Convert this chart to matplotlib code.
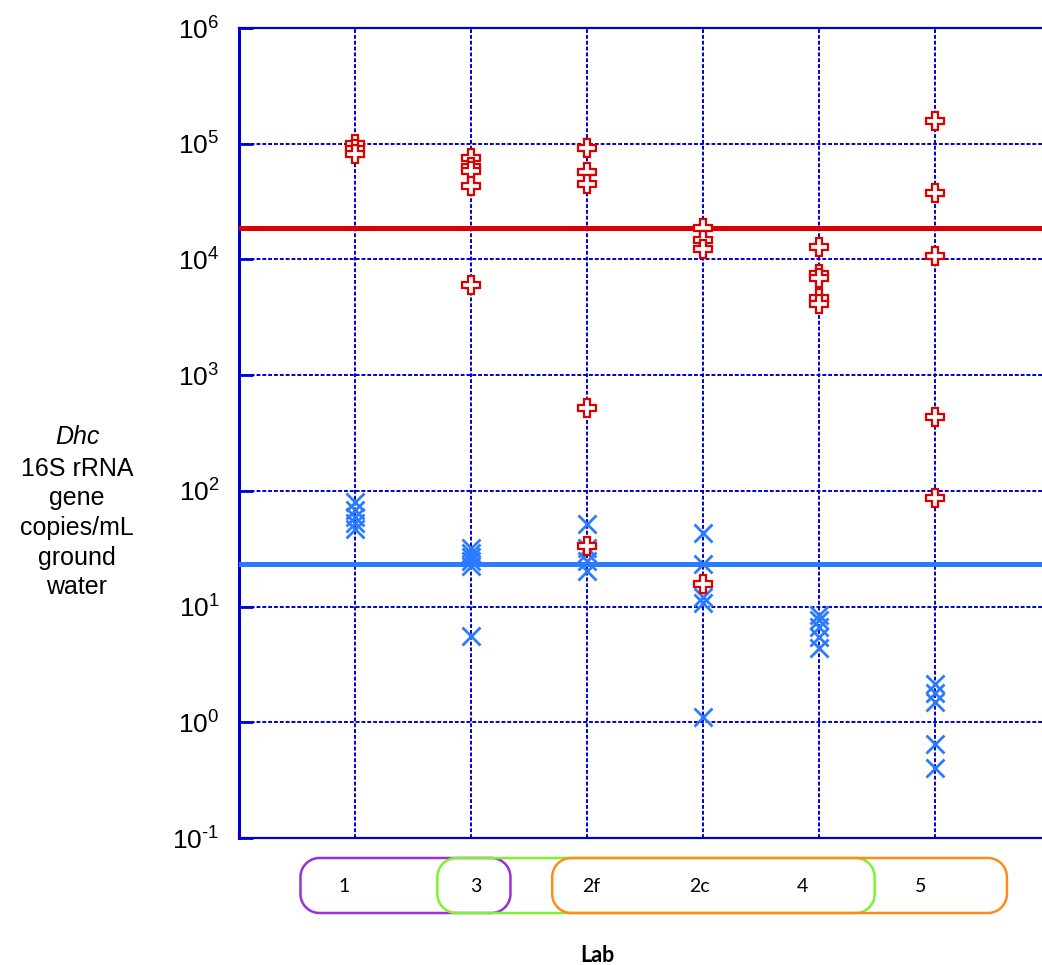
import matplotlib
matplotlib.use("Agg")
import matplotlib.pyplot as plt
from matplotlib.patches import PathPatch
from matplotlib.path import Path
from matplotlib.transforms import IdentityTransform
import numpy as np

plt.rcParams['font.family'] = ['Liberation Sans', 'DejaVu Sans']
plt.rcParams['mathtext.fontset'] = 'custom'
plt.rcParams['mathtext.rm'] = 'Liberation Sans'
plt.rcParams['mathtext.it'] = 'Liberation Sans:italic'

# ---- data ----
labs = ["1", "3", "2f", "2c", "4", "5"]
lab_pos = [1, 2, 3, 4, 5, 6]

red_vals = {
    "1":  [100000, 90000, 82000],
    "3":  [75000, 63000, 58000, 43000, 6000],
    "2f": [92000, 57000, 45000, 520, 33.5],
    "2c": [18600, 14700, 12300, 15.8],
    "4":  [12900, 7500, 6900, 4650, 4100],
    "5":  [158000, 37800, 10800, 432, 86],
}
blue_vals = {
    "1":  [80, 68, 60, 53, 47],
    "3":  [32, 29, 27, 25, 22.5, 5.6],
    "2f": [52, 32, 28.8, 25, 20.4],
    "2c": [43, 23.2, 12.2, 10.7, 1.12],
    "4":  [8.4, 7.6, 6.7, 5.5, 4.35],
    "5":  [2.14, 1.78, 1.51, 0.65, 0.40],
}
red_threshold = 18700
blue_threshold = 23.3
ytick_vals = [1e-1, 1e0, 1e1, 1e2, 1e3, 1e4, 1e5, 1e6]
ytick_labels = [r"$10^{\text{-}1}$", "$10^{0}$", "$10^{1}$", "$10^{2}$",
                "$10^{3}$", "$10^{4}$", "$10^{5}$", "$10^{6}$"]

# lab groups drawn as rounded boxes: (left, right in lab-axis units, colour)
box_groups = [
    (0.53, 2.34, '#9b30d9'),
    (1.71, 5.48, '#80f030'),
    (2.70, 6.62, '#ff8c1a'),
]
label_x = [0.91, 2.04, 3.04, 3.97, 4.86, 5.88]

grid_blue = '#0000d0'
red_c = '#dd0000'
blue_c = '#2a7bff'

W, H = 1042, 965
fig = plt.figure(figsize=(W/100, H/100), dpi=100)
ax = fig.add_axes([239/W, 1-838/H, (1051-239)/W, (838-28)/H])
ax.set_yscale('log')
ax.set_ylim(1e-1, 1e6)
ax.set_xlim(0, 7)

ax.set_yticks(ytick_vals)
ax.set_yticklabels(ytick_labels, fontsize=19)
ax.yaxis.set_minor_locator(matplotlib.ticker.NullLocator())
ax.set_xticks(lab_pos)
ax.set_xticklabels([])
ax.tick_params(axis='y', direction='in', length=10, width=2, color=grid_blue, pad=14)
ax.tick_params(axis='x', length=0)

ax.grid(True, which='major', color=grid_blue, linestyle=(0, (2, 1)), linewidth=1.4)
ax.set_axisbelow(True)
for s in ['left', 'top', 'bottom', 'right']:
    ax.spines[s].set_color(grid_blue)
ax.spines['left'].set_linewidth(2.2)
ax.spines['top'].set_linewidth(1.6)
ax.spines['bottom'].set_linewidth(1.6)

ax.axhline(red_threshold, color=red_c, lw=3.6, zorder=3)
ax.axhline(blue_threshold, color=blue_c, lw=3.6, zorder=3)

for lab, xp in zip(labs, lab_pos):
    bv = blue_vals[lab]
    ax.plot([xp]*len(bv), bv, linestyle='none', marker='x', markersize=12.5,
            markeredgewidth=2, color=blue_c, zorder=4, clip_on=False)
for lab, xp in zip(labs, lab_pos):
    rv = red_vals[lab]
    ax.plot([xp]*len(rv), rv, linestyle='none', marker='P', markersize=12.5,
            markeredgewidth=1.6, markeredgecolor=red_c, markerfacecolor='white',
            zorder=5, clip_on=False)

# rounded boxes below the axis, built in pixel space
pos = ax.get_position()
def xpix(xd):
    return (pos.x0 + xd / 7 * pos.width) * W

def rounded_rect(x0, y0, x1, y1, r):
    pts = []
    corners = [(x1 - r, y1 - r, 0, 90), (x0 + r, y1 - r, 90, 180),
               (x0 + r, y0 + r, 180, 270), (x1 - r, y0 + r, 270, 360)]
    for cx, cy, a0, a1 in corners:
        t = np.radians(np.linspace(a0, a1, 20))
        pts.extend(zip(cx + r*np.cos(t), cy + r*np.sin(t)))
    pts.append(pts[0])
    return Path(pts)

yb, yt = H - 913, H - 858
for (a, b, c) in box_groups:
    path = rounded_rect(xpix(a), yb, xpix(b), yt, 19)
    fig.add_artist(PathPatch(path, transform=IdentityTransform(), fill=False,
                             edgecolor=c, lw=1.8))

for lab, lx in zip(labs, label_x):
    fig.text(xpix(lx)/W, 1 - 887/H, lab, ha='center', va='center',
             fontsize=14, family=['Lato', 'DejaVu Sans'])

fig.text(597/W, 1 - 955/H, "Lab", ha='center', va='center', fontsize=15.5,
         fontweight='bold', family=['Lato', 'DejaVu Sans'])

fig.text(77/W, 1 - 437/H, "Dhc", ha='center', va='center', fontsize=18,
         style='italic')
fig.text(77/W, 1 - 528/H, "16S rRNA\ngene\ncopies/mL\nground\nwater",
         ha='center', va='center', fontsize=18, linespacing=1.3)

fig.savefig("out.png", dpi=100)
